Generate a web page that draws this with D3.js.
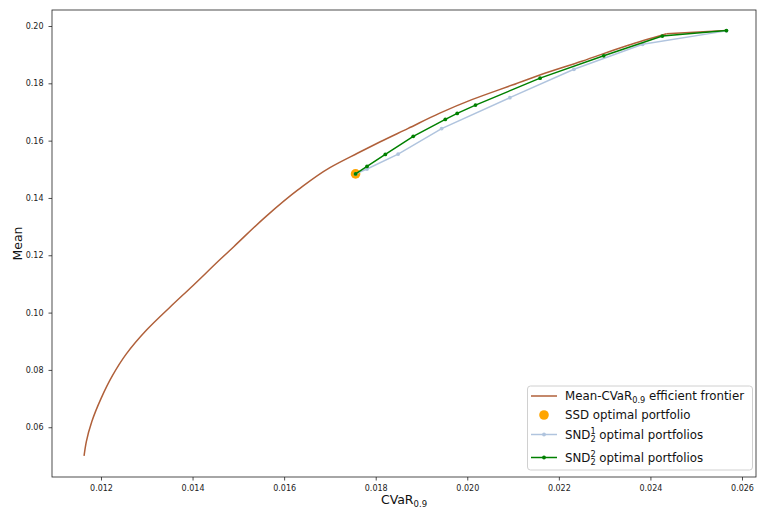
<!DOCTYPE html>
<html>
<head>
<meta charset="utf-8">
<script src="https://cdn.jsdelivr.net/npm/d3@7"></script>
<style>
  html, body { margin: 0; padding: 0; background: #fff; }
  svg { display: block; font-family: "DejaVu Sans", sans-serif; }
</style>
</head>
<body>
<svg id="chart" width="757" height="510"></svg>
<script>
// Mean-CVaR efficient frontier: [CVaR_0.9, mean]
const frontier = [
  [0.01163, 0.0500], [0.01168, 0.0550], [0.01180, 0.0620], [0.01200, 0.0700],
  [0.01225, 0.0780], [0.01255, 0.0855], [0.01300, 0.0940], [0.01350, 0.1018],
  [0.01400, 0.1093], [0.01460, 0.1185], [0.01490, 0.1230], [0.01560, 0.1335],
  [0.01630, 0.1428], [0.01700, 0.1506], [0.01760, 0.1556], [0.01810, 0.1596],
  [0.01870, 0.1642], [0.01940, 0.1696], [0.02010, 0.1743], [0.02100, 0.1795],
  [0.02160, 0.1830], [0.02250, 0.1877], [0.02350, 0.1932], [0.02435, 0.1973],
  [0.02566, 0.1984]
];

// SSD optimal portfolio
const ssdPoint = [[0.01756, 0.1484]];

// SND_2^1 optimal portfolios
const snd1 = [
  [0.01756, 0.1484], [0.01781, 0.1501], [0.01849, 0.1553], [0.01944, 0.1642],
  [0.02093, 0.1750], [0.02233, 0.1849], [0.02383, 0.1936], [0.02566, 0.1983]
];

// SND_2^2 optimal portfolios
const snd2 = [
  [0.01756, 0.1484], [0.01781, 0.1510], [0.01821, 0.1552], [0.01882, 0.1615],
  [0.01952, 0.1674], [0.01978, 0.1695], [0.02018, 0.1724], [0.02159, 0.1818],
  [0.02298, 0.1896], [0.02426, 0.1965], [0.02566, 0.1984]
];

const xTicks = [0.012, 0.014, 0.016, 0.018, 0.020, 0.022, 0.024, 0.026];
const yTicks = [0.06, 0.08, 0.10, 0.12, 0.14, 0.16, 0.18, 0.20];

const svg = d3.select("#chart");
const plot = { left: 52, right: 756, top: 10, bottom: 477 };

const x = d3.scaleLinear().domain([0.01093, 0.026306]).range([plot.left, plot.right]);
const y = d3.scaleLinear().domain([0.042638, 0.205583]).range([plot.bottom, plot.top]);

const line = d3.line().x(d => x(d[0])).y(d => y(d[1]));
const smoothLine = d3.line().x(d => x(d[0])).y(d => y(d[1])).curve(d3.curveMonotoneY);

// Axes
const xAxis = svg.append("g")
  .attr("transform", `translate(0,${plot.bottom})`)
  .call(d3.axisBottom(x).tickValues(xTicks).tickFormat(d3.format(".3f")).tickSizeOuter(0).tickSize(3.5).tickPadding(5));
const yAxis = svg.append("g")
  .attr("transform", `translate(${plot.left},0)`)
  .call(d3.axisLeft(y).tickValues(yTicks).tickFormat(d3.format(".2f")).tickSizeOuter(0).tickSize(3.5).tickPadding(5));
[xAxis, yAxis].forEach(g => {
  g.select(".domain").remove();
  g.selectAll(".tick line").attr("stroke", "#222").attr("stroke-width", 0.8);
  g.selectAll(".tick text").attr("fill", "#222").attr("font-size", 8)
    .attr("font-family", "DejaVu Sans, sans-serif");
});

// Frame
svg.append("rect")
  .attr("x", plot.left).attr("y", plot.top)
  .attr("width", plot.right - plot.left).attr("height", plot.bottom - plot.top)
  .attr("fill", "none").attr("stroke", "#222").attr("stroke-width", 0.8);

svg.append("clipPath").attr("id", "plotclip").append("rect")
  .attr("x", plot.left).attr("y", plot.top)
  .attr("width", plot.right - plot.left).attr("height", plot.bottom - plot.top);
const area = svg.append("g").attr("clip-path", "url(#plotclip)");

const colFrontier = "#b0603a";
const colSSD = "#ffa500";
const colSND1 = "#b0c4de";
const colSND2 = "#008000";

// Frontier (smooth up to the kink, then straight to the last point)
area.append("path").datum(frontier.slice(0, -1)).attr("d", smoothLine)
  .attr("fill", "none").attr("stroke", colFrontier).attr("stroke-width", 1.5);
area.append("path").datum(frontier.slice(-2)).attr("d", line)
  .attr("fill", "none").attr("stroke", colFrontier).attr("stroke-width", 1.5);

// SSD point
area.selectAll("circle.ssd").data(ssdPoint).join("circle").attr("class", "ssd")
  .attr("cx", d => x(d[0])).attr("cy", d => y(d[1])).attr("r", 4.8).attr("fill", colSSD);

// SND series
function series(data, color, cls) {
  area.append("path").datum(data).attr("d", line)
    .attr("fill", "none").attr("stroke", color).attr("stroke-width", 1.5);
  area.selectAll("circle." + cls).data(data).join("circle").attr("class", cls)
    .attr("cx", d => x(d[0])).attr("cy", d => y(d[1])).attr("r", 1.9).attr("fill", color);
}
series(snd1, colSND1, "s1");
series(snd2, colSND2, "s2");

// Axis labels
const xl = svg.append("text").attr("x", (plot.left + plot.right) / 2).attr("y", 504)
  .attr("text-anchor", "middle").attr("font-size", 12.5).attr("fill", "#111");
xl.append("tspan").text("CVaR");
xl.append("tspan").attr("font-size", 8.5).attr("dy", 3).text("0.9");

svg.append("text")
  .attr("transform", `translate(22,${(plot.top + plot.bottom) / 2}) rotate(-90)`)
  .attr("text-anchor", "middle").attr("font-size", 12.5).attr("fill", "#111").text("Mean");

// Legend
const lg = svg.append("g");
lg.append("rect").attr("x", 527.5).attr("y", 386).attr("width", 225).attr("height", 84)
  .attr("rx", 3).attr("fill", "#fff").attr("fill-opacity", 0.8)
  .attr("stroke", "#d0d0d0").attr("stroke-width", 1);

const entries = [
  { kind: "line", color: colFrontier, cy: 396 },
  { kind: "dot", color: colSSD, cy: 415 },
  { kind: "linedot", color: colSND1, cy: 434.5 },
  { kind: "linedot", color: colSND2, cy: 457.5 }
];
entries.forEach(e => {
  if (e.kind !== "dot") {
    lg.append("line").attr("x1", 531).attr("x2", 557).attr("y1", e.cy).attr("y2", e.cy)
      .attr("stroke", e.color).attr("stroke-width", 1.5);
  }
  if (e.kind === "dot") {
    lg.append("circle").attr("cx", 544).attr("cy", e.cy).attr("r", 4.8).attr("fill", e.color);
  }
  if (e.kind === "linedot") {
    lg.append("circle").attr("cx", 544).attr("cy", e.cy).attr("r", 1.9).attr("fill", e.color);
  }
});

const fs = 11.8, sfs = 8.2, tx = 565;
const t1 = lg.append("text").attr("x", tx).attr("y", 396 + 4.3).attr("font-size", fs).attr("fill", "#111");
t1.append("tspan").text("Mean-CVaR");
t1.append("tspan").attr("font-size", sfs).attr("dy", 3).text("0.9");
t1.append("tspan").attr("dy", -3).text(" efficient frontier");

lg.append("text").attr("x", tx).attr("y", 415 + 4.3).attr("font-size", fs).attr("fill", "#111")
  .text("SSD optimal portfolio");

function sndLabel(cy, sup) {
  const t = lg.append("text").attr("x", tx).attr("y", cy + 4.3).attr("font-size", fs).attr("fill", "#111");
  t.append("tspan").text("SND");
  const sp = t.append("tspan").attr("font-size", sfs).attr("dy", -5).text(sup);
  const supW = sp.node().getComputedTextLength();
  t.append("tspan").attr("font-size", sfs).attr("dx", -supW).attr("dy", 8.5).text("2");
  t.append("tspan").attr("dy", -3.5).text(" optimal portfolios");
}
sndLabel(434.5, "1");
sndLabel(457.5, "2");
</script>
</body>
</html>
